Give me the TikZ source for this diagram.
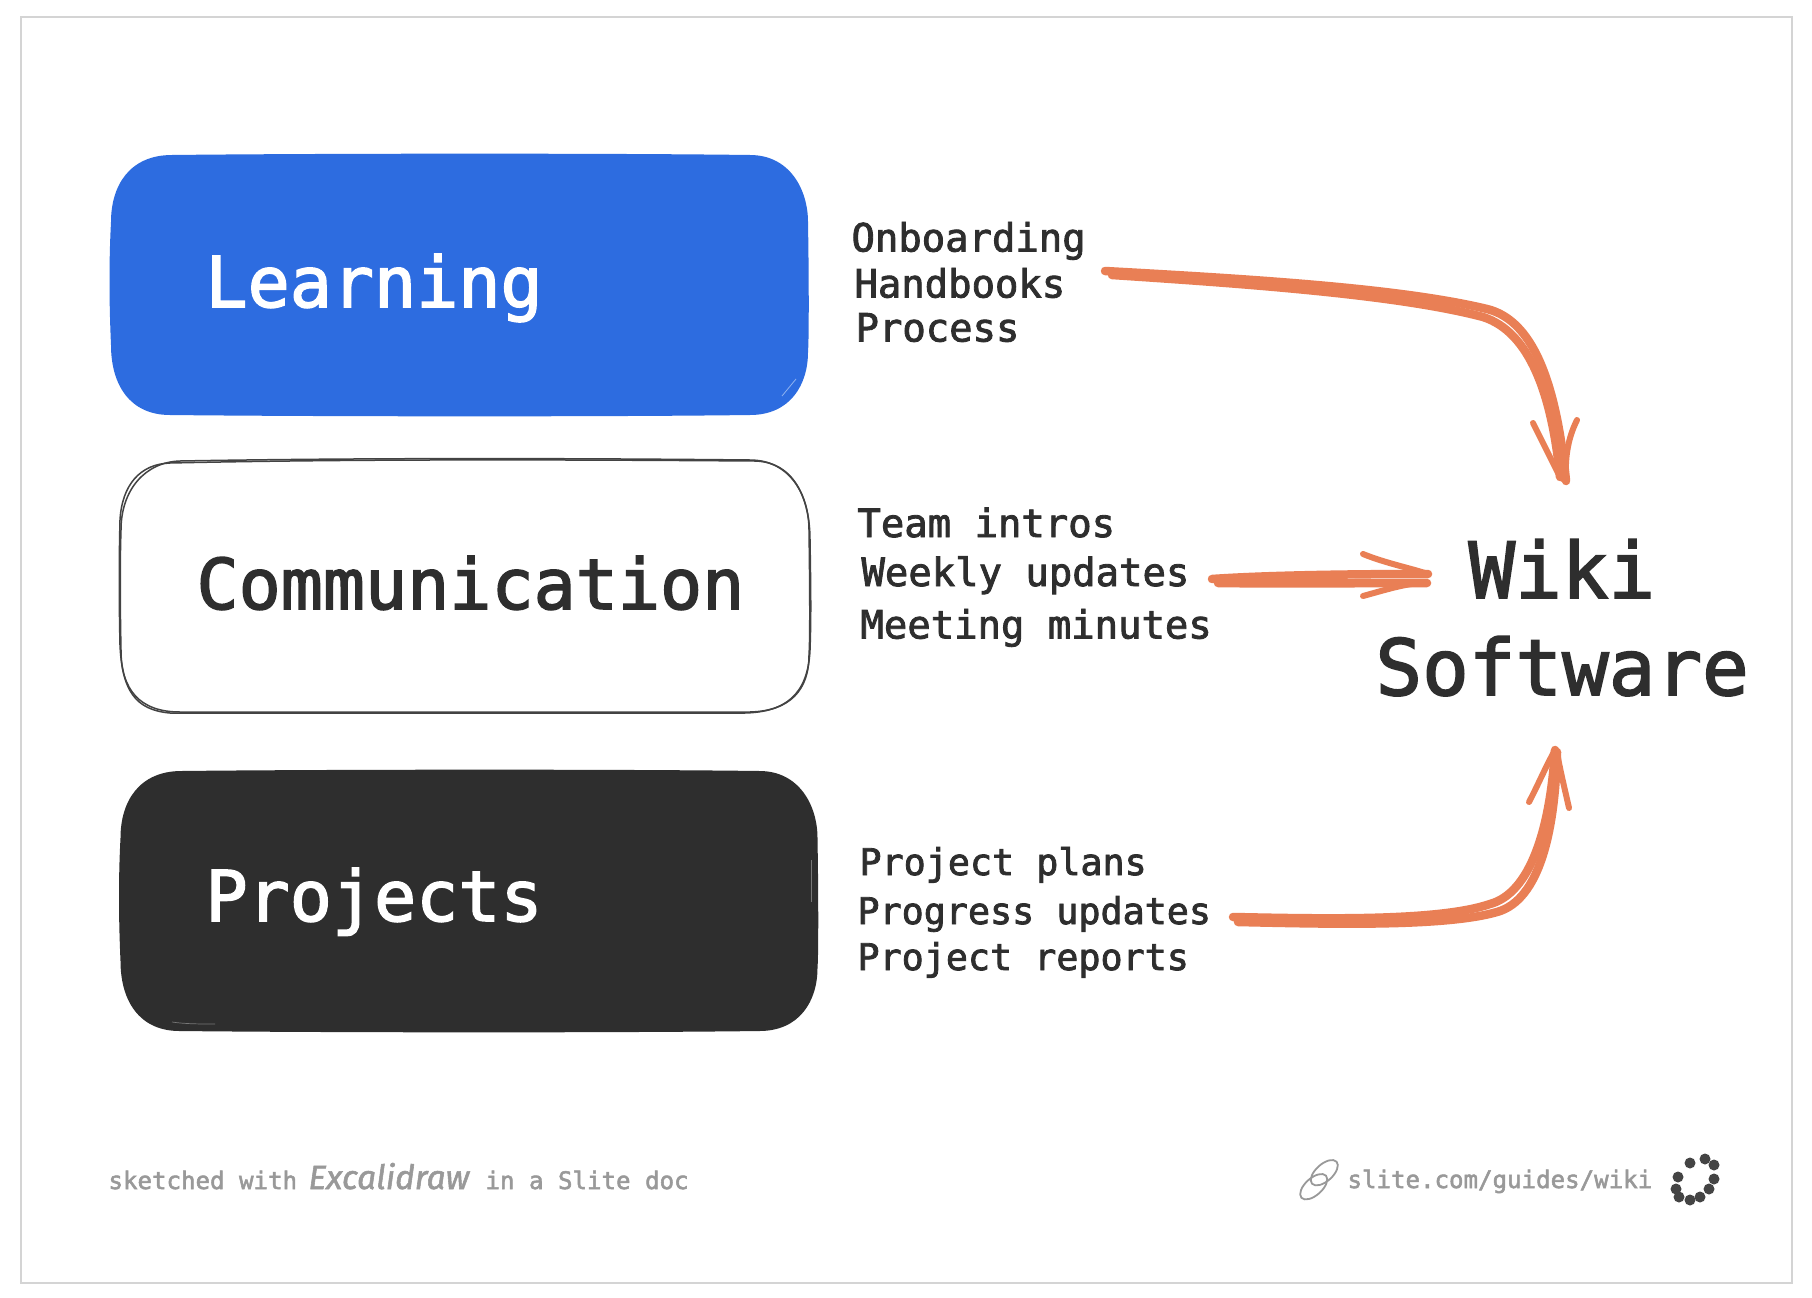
\documentclass[tikz,border=0pt]{standalone}
\usepackage{fontspec}
\setmainfont[FakeBold=2.2]{DejaVu Sans Mono}
\newfontfamily\handfont[FakeBold=1.6]{Fira Sans Italic}
\definecolor{inkc}{HTML}{2E2E2E}
\definecolor{bluec}{HTML}{2D6CE0}
\definecolor{hairb}{HTML}{8FB2F0}
\definecolor{hairk}{HTML}{777777}
\definecolor{orangec}{HTML}{E97F55}
\definecolor{grayc}{HTML}{999999}
\definecolor{framec}{HTML}{D4D4D4}
\definecolor{dotc}{HTML}{444444}
\newcommand{\softshape}{(172,155) .. controls (300,153.5) and (600,153) .. (750,155) .. controls (790,155) and (808,190) .. (808,222) .. controls (809,280) and (809,340) .. (808,352) .. controls (808,385) and (790,415) .. (750,415) .. controls (600,417) and (300,416.5) .. (170,415) .. controls (130,415) and (111,385) .. (111,345) .. controls (109,300) and (109,260) .. (111,222) .. controls (111,185) and (130,155) .. (172,155) -- cycle}
\tikzset{
 big/.style={anchor=base west,inner sep=0pt,font=\fontsize{70}{72}\selectfont},
 list/.style={anchor=base west,inner sep=0pt,text=inkc,font=\fontsize{38.9}{40}\selectfont},
 listb/.style={anchor=base west,inner sep=0pt,text=inkc,font=\fontsize{36.7}{40}\selectfont},
 wiki/.style={anchor=base west,inner sep=0pt,text=inkc,font=\fontsize{77.5}{80}\selectfont},
 foot/.style={anchor=base west,inner sep=0pt,text=grayc,font=\fontsize{24.1}{26}\selectfont},
 arrowline/.style={draw=orangec,line width=8.5pt,line cap=round,line join=round},
 headline/.style={draw=orangec,line width=6pt,line cap=round,line join=round},
 dotd/.style={circle,fill=dotc,inner sep=0pt,minimum size=11pt},
 sketchline/.style={draw=inkc!90!white,line width=1.5pt}
}
\begin{document}
\begin{tikzpicture}[x=1pt,y=-1pt,line width=1pt]
\useasboundingbox (0,0) rectangle (1812,1298);
\fill[white] (0,0) rectangle (1812,1298);
\draw[framec,line width=2pt] (21,17) rectangle (1792,1283);
% boxes
\fill[bluec] \softshape;
\draw[hairb,line width=0.8pt] (796,379) -- (782,396);
\draw[sketchline] (180,461) .. controls (350,458) and (550,458) .. (750,460) .. controls (790,460) and (809,495) .. (809,530) .. controls (810,600) and (810,640) .. (809,655) .. controls (809,690) and (790,711) .. (750,712) .. controls (550,712) and (350,712) .. (180,712) .. controls (140,712) and (121,690) .. (121,650) .. controls (120,600) and (120,560) .. (121,530) .. controls (121,490) and (145,462) .. (180,461) -- cycle;
\draw[sketchline] (170,463) .. controls (350,459) and (550,459.5) .. (755,461) .. controls (795,462) and (810,500) .. (810,540) .. controls (811,600) and (811,620) .. (810,650) .. controls (808,695) and (785,712) .. (745,713) .. controls (550,713.5) and (350,713) .. (170,713) .. controls (135,710) and (122,690) .. (120,645) .. controls (119,600) and (119,560) .. (120,520) .. controls (122,485) and (140,464) .. (170,463) -- cycle;
\begin{scope}[shift={(9.5,616)}]
\fill[inkc] \softshape;
\end{scope}
\draw[hairk,line width=0.7pt] (172,1022) .. controls (185,1024) and (200,1024) .. (215,1024);
\draw[hairk,line width=0.7pt] (811,860) -- (811,902);
% box titles
\node[big,text=white] (learning) at (205,307) {Learning};
\node[big,text=inkc] (communication) at (196,609) {Communication};
\node[big,text=white] (projects) at (205,921) {Projects};
% lists
\node[list] (l1) at (851,251.5) {Onboarding};
\node[list] (l2) at (854,297.5) {Handbooks};
\node[list] (l3) at (855,341.5) {Process};
\node[list] (c1) at (857,537) {Team intros};
\node[list] (c2) at (861,586) {Weekly updates};
\node[list] (c3) at (860,638.5) {Meeting minutes};
\node[listb] (p1) at (859,875) {Project plans};
\node[listb] (p2) at (857,924) {Progress updates};
\node[listb] (p3) at (857,970) {Project reports};
% wiki
\node[wiki] (wikit) at (1468,598) {Wiki};
\node[wiki] (soft) at (1375,695) {Software};
% arrow ends
\coordinate (a1s) at (1105,271);
\coordinate (a1t) at (1112,275);
\coordinate (a1e) at (1566,481);
\coordinate (a1f) at (1560,477);
\coordinate (a1l) at (1533,423);
\coordinate (a1r) at (1577,420);
\coordinate (a2s) at (1212,579);
\coordinate (a2t) at (1218,583);
\coordinate (a2e) at (1428,574);
\coordinate (a2f) at (1427,583);
\coordinate (a2l) at (1363,554);
\coordinate (a2r) at (1363,596);
\coordinate (a3s) at (1233,917);
\coordinate (a3t) at (1238,922);
\coordinate (a3e) at (1555,750);
\coordinate (a3f) at (1557,752);
\coordinate (a3l) at (1529,802);
\coordinate (a3r) at (1569,808);
% arrow 1
\draw[arrowline] (a1s) .. controls (1250,279) and (1400,288) .. (1487,309) .. controls (1532,320) and (1556,380) .. (a1e);
\draw[arrowline] (a1t) .. controls (1250,284) and (1400,295) .. (1483,317) .. controls (1530,332) and (1552,395) .. (a1f);
\draw[headline] (a1l) -- (a1f) -- (a1e);
\draw[headline] (a1r) .. controls (1567,440) and (1565,460) .. (a1e);
% arrow 2
\draw[arrowline] (a2s) .. controls (1270,575) and (1360,574) .. (a2e);
\draw[arrowline] (a2t) .. controls (1290,584) and (1360,583) .. (a2f);
\draw[headline] (a2l) .. controls (1385,563) and (1410,568) .. (a2e);
\draw[headline] (a2r) .. controls (1385,590) and (1410,582) .. (a2f);
% arrow 3
\draw[arrowline] (a3s) .. controls (1330,919) and (1440,921) .. (1490,904) .. controls (1530,893) and (1550,830) .. (a3e);
\draw[arrowline] (a3t) .. controls (1330,924) and (1445,927) .. (1497,912) .. controls (1540,900) and (1555,830) .. (a3f);
\draw[headline] (a3l) .. controls (1538,785) and (1545,768) .. (a3e);
\draw[headline] (a3r) .. controls (1565,790) and (1560,770) .. (a3f);
% footer
\node[foot] (f1) at (108,1189) {sketched with};
\node[anchor=base west,inner sep=0pt,text=grayc,font=\handfont\fontsize{33.5}{36}\selectfont] (f2) at (308,1189) {Excalidraw};
\node[foot] (f3) at (485,1189) {in a Slite doc};
\draw[grayc,line width=1.8pt,rotate around={42:(1324.3,1172.7)}] (1324.3,1172.7) ellipse [x radius=16.5pt,y radius=8.5pt];
\draw[grayc,line width=1.8pt,rotate around={42:(1313.7,1186.7)}] (1313.7,1186.7) ellipse [x radius=16.5pt,y radius=8.5pt];
\node[foot] (f4) at (1347,1188) {slite.com/guides/wiki};
\node[dotd] (d1) at (1705,1159) {};
\node[dotd] (d2) at (1714,1165) {};
\node[dotd] (d3) at (1714,1179) {};
\node[dotd] (d4) at (1709,1189) {};
\node[dotd] (d5) at (1700,1197) {};
\node[dotd] (d6) at (1690,1200) {};
\node[dotd] (d7) at (1679,1197) {};
\node[dotd] (d8) at (1676,1189) {};
\node[dotd] (d9) at (1678,1177) {};
\node[dotd] (d10) at (1690,1163) {};
\end{tikzpicture}
\end{document}
